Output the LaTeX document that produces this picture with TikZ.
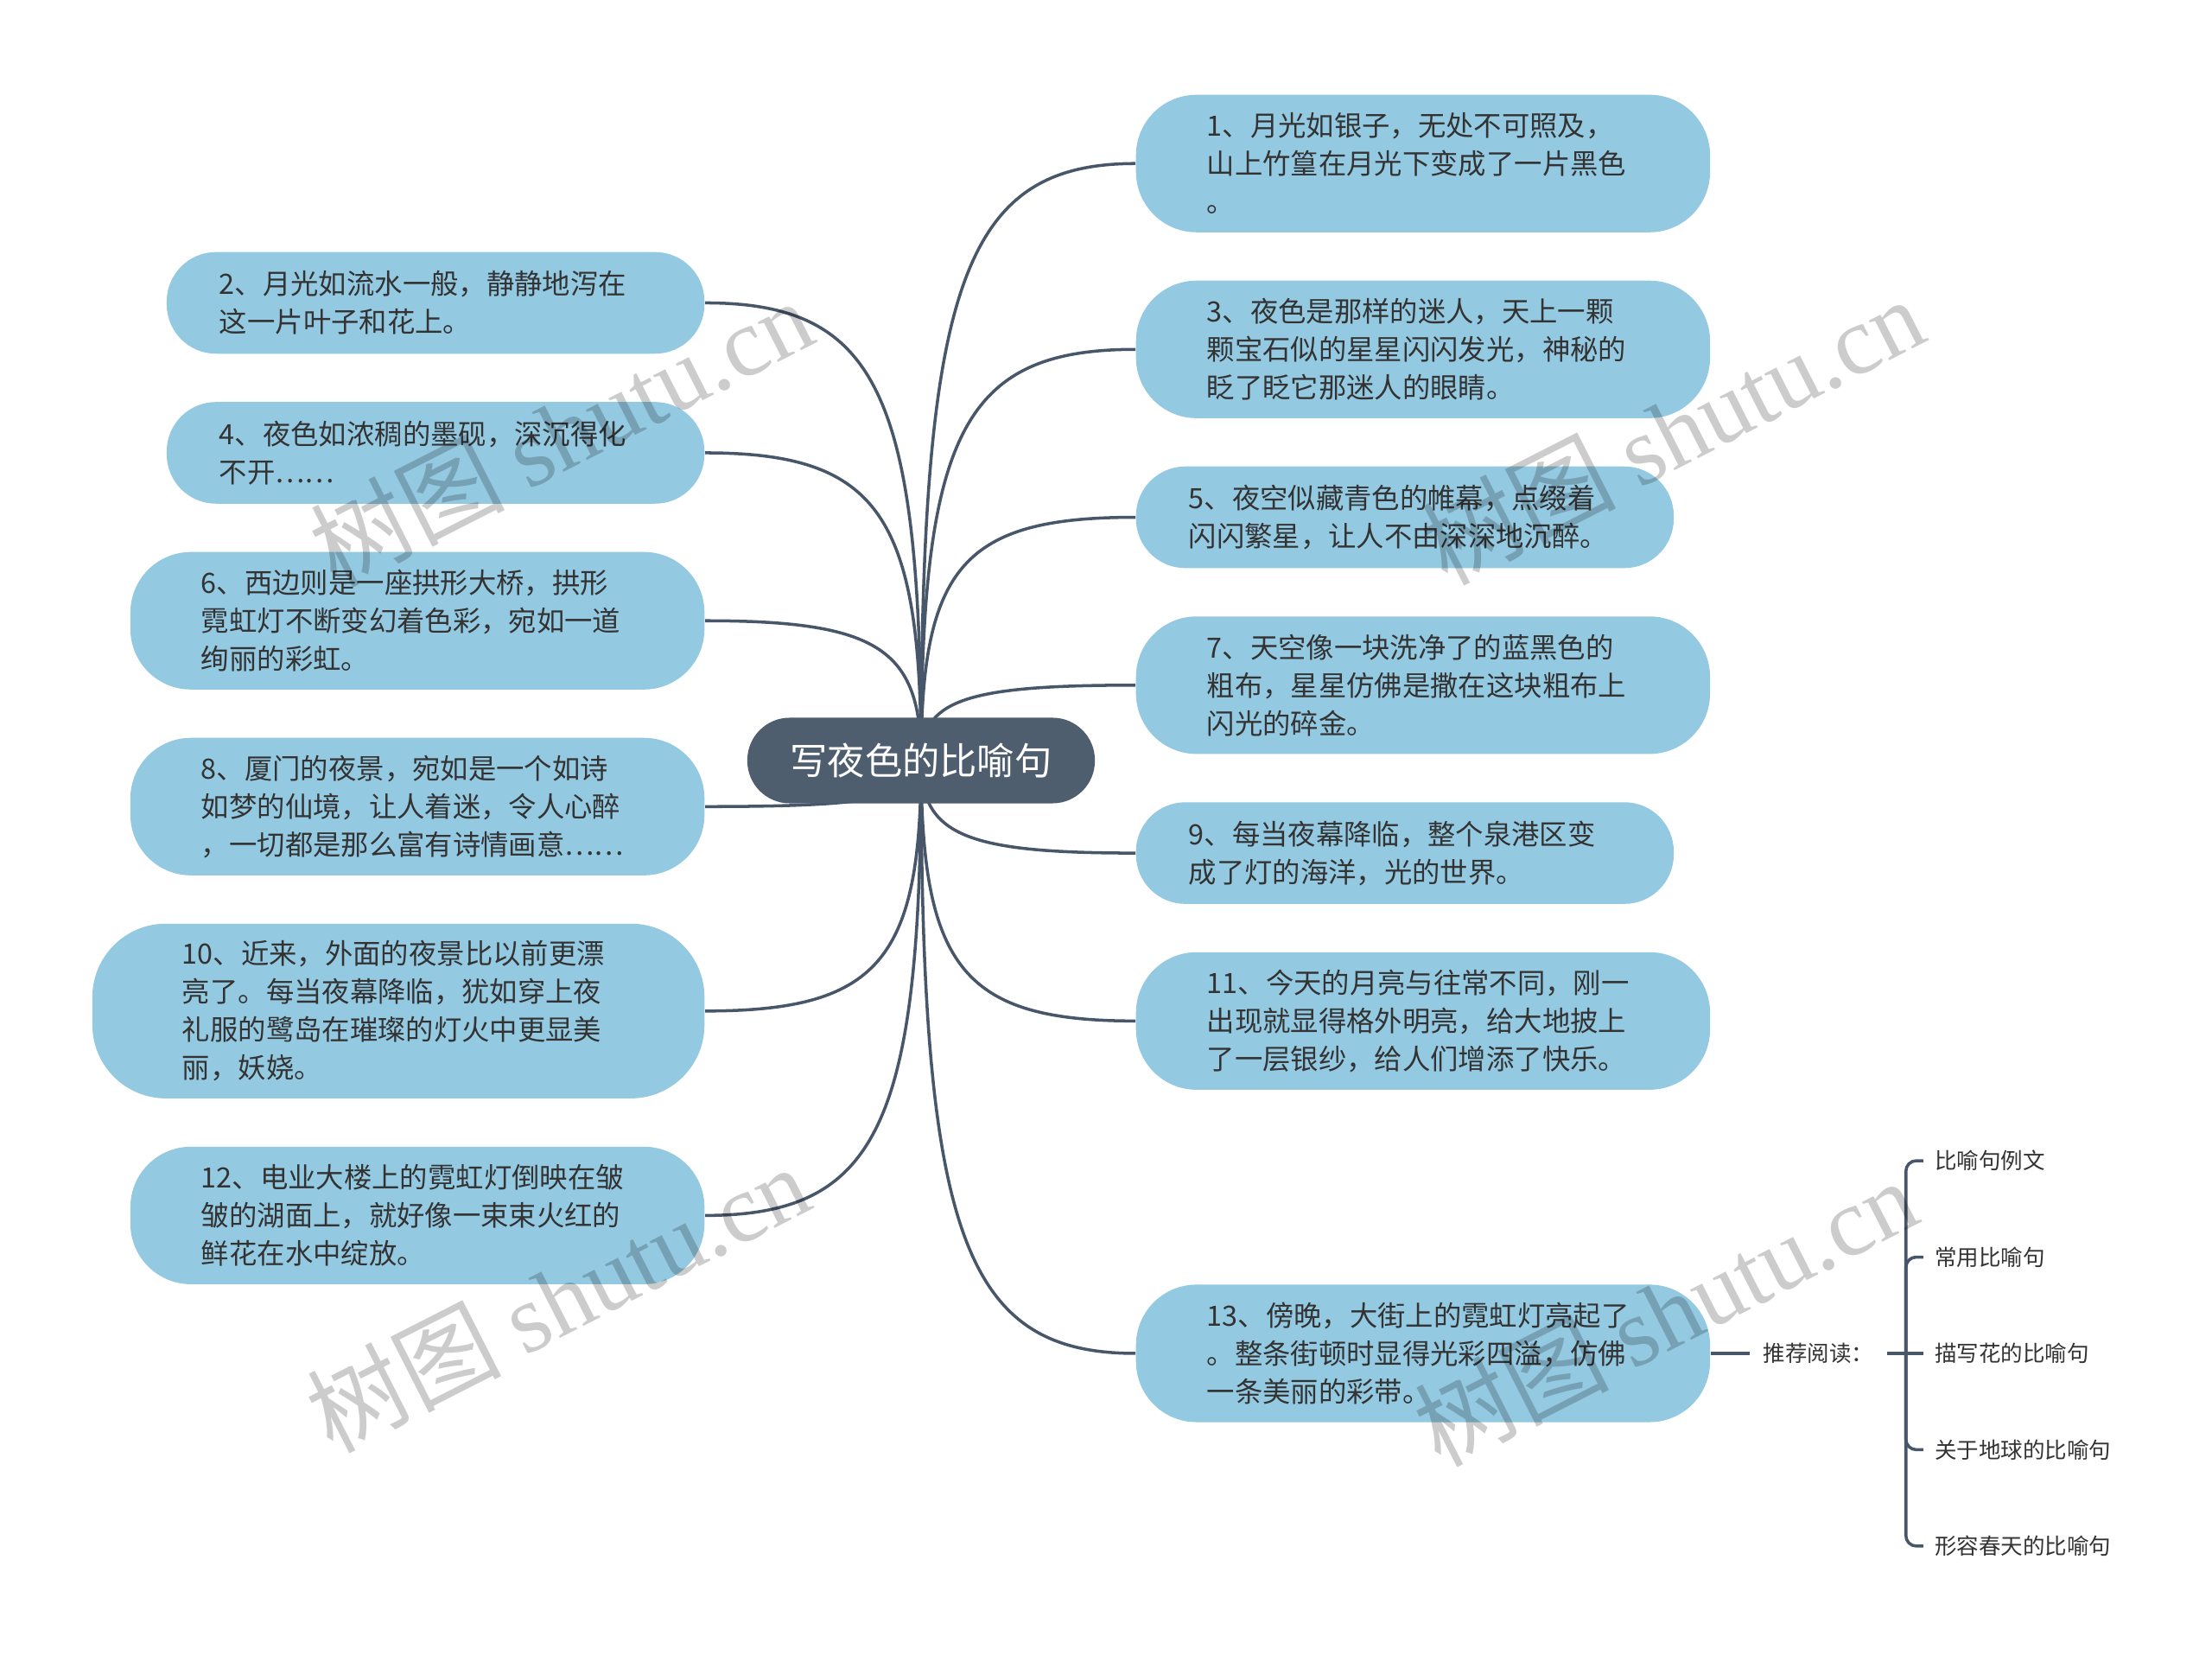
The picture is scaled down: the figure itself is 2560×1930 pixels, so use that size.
\documentclass[tikz,border=0pt]{standalone}
\usepackage{fontspec}
\setmainfont{Noto Sans CJK SC}
\newfontfamily\wmlatin{Liberation Serif}
\usetikzlibrary{positioning,calc,backgrounds}

\definecolor{leafblue}{HTML}{94C9E2}
\definecolor{rootslate}{HTML}{4F5E6E}
\definecolor{spokeslate}{HTML}{475669}
\definecolor{inktext}{HTML}{333333}

\begin{document}
\begin{tikzpicture}[
  x=0.01cm, y=0.01cm,
  rootpill/.style={fill=rootslate, text=white, rounded corners=0.49cm, minimum width=4.02cm, minimum height=0.99cm, font=\fontsize{12.3}{14}\selectfont},
  leafpill/.style={fill=leafblue, text=inktext, align=left, text width=5cm, font=\fontsize{9.2}{12.55}\selectfont},
  twoline/.style={leafpill, minimum height=1.175cm, rounded corners=0.57cm},
  threeline/.style={leafpill, minimum height=1.59cm, rounded corners=0.7cm},
  fourline/.style={leafpill, minimum height=2.02cm, rounded corners=0.85cm},
  narrowpill/.style={inner xsep=0.61cm},
  widepill/.style={inner xsep=0.82cm},
  widestpill/.style={inner xsep=1.04cm},
  readitem/.style={text=inktext, inner xsep=0.13cm, font=\fontsize{7.25}{9}\selectfont},
  spoke/.style={draw=spokeslate, line width=1pt},
  wmtext/.style={text=black, text opacity=0.2, font=\fontsize{32}{32}\selectfont},
  node distance=0.545cm
]
  \useasboundingbox (0,0) rectangle (2560,1930);

  \node[rootpill] (root) at (1066,1050) {写夜色的比喻句};

  % right column
  \node[threeline, widepill, anchor=north west] (n1) at (1314,1821) {1、月光如银子，无处不可照及，\\山上竹篁在月光下变成了一片黑色\\。};
  \node[threeline, widepill, below=of n1.south west, anchor=north west] (n3) {3、夜色是那样的迷人，天上一颗\\颗宝石似的星星闪闪发光，神秘的\\眨了眨它那迷人的眼睛。};
  \node[twoline, narrowpill, below=of n3.south west, anchor=north west] (n5) {5、夜空似藏青色的帷幕，点缀着\\闪闪繁星，让人不由深深地沉醉。};
  \node[threeline, widepill, below=of n5.south west, anchor=north west] (n7) {7、天空像一块洗净了的蓝黑色的\\粗布，星星仿佛是撒在这块粗布上\\闪光的碎金。};
  \node[twoline, narrowpill, below=of n7.south west, anchor=north west] (n9) {9、每当夜幕降临，整个泉港区变\\成了灯的海洋，光的世界。};
  \node[threeline, widepill, below=of n9.south west, anchor=north west] (n11) {11、今天的月亮与往常不同，刚一\\出现就显得格外明亮，给大地披上\\了一层银纱，给人们增添了快乐。};
  \node[threeline, widepill, below=2.24cm of n11.south west, anchor=north west] (n13) {13、傍晚，大街上的霓虹灯亮起了\\。整条街顿时显得光彩四溢，仿佛\\一条美丽的彩带。};

  % left column
  \node[twoline, narrowpill, anchor=north east] (n2) at (816,1639) {2、月光如流水一般，静静地泻在\\这一片叶子和花上。};
  \node[twoline, narrowpill, below=of n2.south east, anchor=north east] (n4) {4、夜色如浓稠的墨砚，深沉得化\\不开……};
  \node[threeline, widepill, below=of n4.south east, anchor=north east] (n6) {6、西边则是一座拱形大桥，拱形\\霓虹灯不断变幻着色彩，宛如一道\\绚丽的彩虹。};
  \node[threeline, widepill, below=of n6.south east, anchor=north east] (n8) {8、厦门的夜景，宛如是一个如诗\\如梦的仙境，让人着迷，令人心醉\\，一切都是那么富有诗情画意……};
  \node[fourline, widestpill, below=of n8.south east, anchor=north east] (n10) {10、近来，外面的夜景比以前更漂\\亮了。每当夜幕降临，犹如穿上夜\\礼服的鹭岛在璀璨的灯火中更显美\\丽，妖娆。};
  \node[threeline, widepill, below=of n10.south east, anchor=north east] (n12) {12、电业大楼上的霓虹灯倒映在皱\\皱的湖面上，就好像一束束火红的\\鲜花在水中绽放。};

  % recommended reading
  \node[readitem, right=0.45cm of n13, inner xsep=0.15cm] (rec) {推荐阅读：};
  \coordinate[right=0.22cm of rec] (fork);
  \node[readitem, anchor=west] (r1) at ([xshift=0.2cm, yshift=2.228cm]fork) {比喻句例文};
  \node[readitem, anchor=west] (r2) at ([xshift=0.2cm, yshift=1.114cm]fork) {常用比喻句};
  \node[readitem, anchor=west] (r3) at ([xshift=0.2cm]fork) {描写花的比喻句};
  \node[readitem, anchor=west] (r4) at ([xshift=0.2cm, yshift=-1.114cm]fork) {关于地球的比喻句};
  \node[readitem, anchor=west] (r5) at ([xshift=0.2cm, yshift=-2.228cm]fork) {形容春天的比喻句};

  \draw[spoke] (n13.east) -- (rec.west);
  \draw[spoke] (rec.east) -- (r3.west);
  \draw[spoke, rounded corners=0.12cm] (r1.west) -| (fork) |- (r5.west);
  \draw[spoke, rounded corners=0.12cm] (r2.west) -| (fork);
  \draw[spoke, rounded corners=0.12cm] (r4.west) -| (fork);

  \begin{scope}[on background layer]
    \fill[white] (0,0) rectangle (2560,1930);
    \foreach \leaf in {n1,n3,n5,n7,n9,n11,n13}
      \draw[spoke] (root.center) .. controls ($(root.center)!0.8!(root.center |- \leaf.west)$) and ($(\leaf.west)!0.8!(root.center |- \leaf.west)$) .. (\leaf.west);
    \foreach \leaf in {n2,n4,n6,n8,n10,n12}
      \draw[spoke] (root.center) .. controls ($(root.center)!0.8!(root.center |- \leaf.east)$) and ($(\leaf.east)!0.8!(root.center |- \leaf.east)$) .. (\leaf.east);
  \end{scope}

  % watermark
  \foreach \wx/\wy in {649/1430, 1935/1432, 645/428, 1927/412}
    \node[wmtext, rotate=27] (wm\wx) at (\wx,\wy) {树图 {\wmlatin shutu.cn}};
\end{tikzpicture}
\end{document}
